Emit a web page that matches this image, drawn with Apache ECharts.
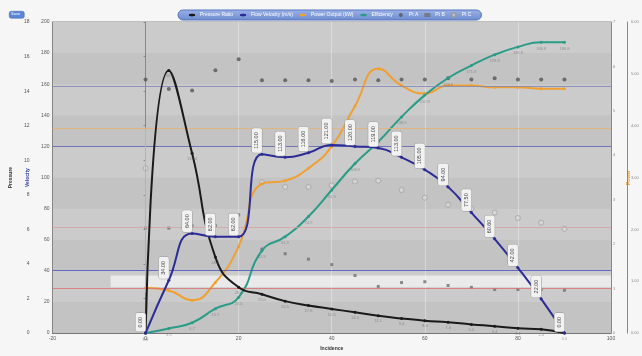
<!DOCTYPE html>
<html><head><meta charset="utf-8">
<script src="https://cdn.jsdelivr.net/npm/echarts@6/dist/echarts.min.js"></script>
<style>html,body{margin:0;padding:0;background:#f6f6f6;}#c{width:642px;height:356px;}</style>
</head><body><div id="c"></div>
<script>
// ---- data ----
const xs = [0,5,10,15,20,25,30,35,40,45,50,55,60,65,70,75,80,85,90];
const pressure = [0,15.2,10.4,4.4,2.65,2.25,1.85,1.6,1.4,1.2,1.0,0.85,0.72,0.63,0.5,0.4,0.28,0.22,0];
const velocity = [0,34,64,62,62,115,113,116,121,120,119,113,105,94,77.5,60.6,42,22,0];
const power = [1.02,0.96,0.74,1.14,1.95,3.36,3.43,3.71,4.2,5.11,5.95,5.57,5.39,5.57,5.57,5.53,5.53,5.5,5.5];
const efficiency = [0,0.09,0.2,0.47,0.69,1.59,1.86,2.25,2.76,3.27,3.69,4.17,4.59,4.92,5.16,5.37,5.52,5.61,5.61];
const ptA = [163,157,156,169,176,162.5,162.5,162.5,162,163,162.5,163,163,163.8,163,163.8,163,163,163];
const ptB = [67.5,67.5,69,69,76,54,51,47.5,44,37,30,32.5,33,30.6,29.4,28,28,28,27.5];
const ptCx = [0,25,30,35,40,45,50,55,60,65,70,75,80,85,90];
const ptC = [106,97,94,94,95,97.5,98,92,87,82.5,80,77.5,74,71,67];
const names = ['Pressure Ratio','Flow Velocity (m/s)','Power Output (kW)','Efficiency','Pt A','Pt B','Pt C'];
const refLines = [{v:159,c:'#7d86b8'},{v:132,c:'#e8b070'},{v:120,c:'#5a62b0'},{v:68,c:'#d9a0a0'},{v:40.6,c:'#4a52c0'},{v:28.75,c:'#d87070'}];
const band = [29.5,37];
const errBar = [0,26,132];

const pair = (a,b)=>a.map((v,i)=>[a[i],b[i]]);
const fs = 5;
const chart = echarts.init(document.getElementById('c'));
chart.setOption({
  backgroundColor:'#f6f6f6',
  animation:false,
  graphic:[
    {type:'rect',left:9,top:11,shape:{width:15,height:7,r:2},style:{fill:'#5b86d6',stroke:'#3a5fa8',lineWidth:0.5}},
    {type:'text',left:11,top:12,style:{text:'Save',fill:'#fff',fontSize:4}}
  ],
  legend:{
    left:178, top:10, width:320,
    backgroundColor:new echarts.graphic.LinearGradient(0,0,0,1,[{offset:0,color:'#9db3e6'},{offset:1,color:'#6b8ad0'}]),
    borderColor:'#5676bf', borderWidth:1, borderRadius:6,
    padding:[2,10], itemGap:6, itemWidth:6, itemHeight:4,
    textStyle:{color:'#fff',fontSize:fs},
    data:names
  },
  grid:{left:48,right:31,top:22,bottom:14,show:true,backgroundColor:'#c6c6c6',borderColor:'#888',borderWidth:1},
  xAxis:{type:'value',min:-20,max:100,interval:20,
    name:'Incidence',nameLocation:'middle',nameGap:8,nameTextStyle:{fontSize:fs,fontWeight:'bold',color:'#333'},
    axisLine:{lineStyle:{color:'#777'}},axisTick:{show:false},
    axisLabel:{fontSize:fs,color:'#555',margin:3},
    splitLine:{show:true,lineStyle:{color:'rgba(255,255,255,0.35)',width:1}}},
  yAxis:[
    {type:'value',position:'left',offset:20,min:0,max:18,interval:2,
      name:'Pressure',nameLocation:'middle',nameGap:13,nameTextStyle:{fontSize:fs,color:'#333',fontWeight:'bold'},
      axisLine:{show:true,lineStyle:{color:'#888'}},axisTick:{show:true,length:2},axisLabel:{fontSize:fs,color:'#555',margin:3},splitLine:{show:false}},
    {type:'value',position:'left',offset:0,min:0,max:200,interval:20,
      name:'Velocity',nameLocation:'middle',nameGap:16,nameTextStyle:{fontSize:fs,color:'#3040a0',fontWeight:'bold'},
      axisLine:{show:true,lineStyle:{color:'#888'}},axisTick:{show:false},axisLabel:{fontSize:fs,color:'#555',margin:3},
      splitLine:{show:false},
      splitArea:{show:true,areaStyle:{color:['#c3c3c3','#cbcbcb']}}},
    {type:'value',position:'right',offset:0,min:0,max:7,interval:1,
      name:'Power',nameLocation:'middle',nameGap:10,nameTextStyle:{fontSize:fs,color:'#e89a30',fontWeight:'bold'},
      axisLine:{show:true,lineStyle:{color:'#888'}},axisTick:{show:false},axisLabel:{fontSize:4,color:'#888',margin:2},splitLine:{show:false}},
    {type:'value',position:'right',offset:16,min:0,max:6,interval:1,
      axisLine:{show:true,lineStyle:{color:'#888'}},axisTick:{show:false},
      axisLabel:{fontSize:4,color:'#888',margin:4,formatter:v=>v.toFixed(2)},splitLine:{show:false}}
  ],
  series:[
    {name:names[0],type:'line',yAxisIndex:0,smooth:0.5,data:pair(xs,pressure),
      symbol:'circle',symbolSize:3,lineStyle:{color:'#1a1a1a',width:2},itemStyle:{color:'#1a1a1a'},
      label:{show:true,position:'bottom',distance:2,fontSize:4,color:'rgba(90,90,90,0.55)',formatter:p=>(p.value[1]*11.1).toFixed(1)},z:5},
    {name:names[1],type:'line',yAxisIndex:1,smooth:0.5,data:pair(xs,velocity),
      symbol:'circle',symbolSize:3,lineStyle:{color:'#2c2c96',width:2},itemStyle:{color:'#2c2c96'},
      label:{show:true,position:'top',distance:2,rotate:90,align:'left',verticalAlign:'bottom',offset:[-2,0],
        fontSize:5.5,color:'#444',backgroundColor:'#f2f2f2',borderColor:'#999',borderWidth:0.5,borderRadius:2,padding:[2,4],
        formatter:p=>p.value[1].toFixed(2)},
      markLine:{silent:true,symbol:'none',label:{show:false},data:refLines.map(r=>({yAxis:r.v,lineStyle:{color:r.c,width:1,type:'solid',opacity:0.8}}))
        .concat([[{coord:[errBar[0],errBar[1]],lineStyle:{color:'#e0a0a8',width:1,type:'solid'}},{coord:[errBar[0],errBar[2]]}]])},
      markArea:{silent:true,itemStyle:{color:'rgba(255,255,255,0.6)'},data:[[{xAxis:-7.5,yAxis:band[0]},{xAxis:100,yAxis:band[1]}]]},
      z:6},
    {name:names[2],type:'line',yAxisIndex:2,smooth:0.5,data:pair(xs,power),
      symbol:'circle',symbolSize:3,lineStyle:{color:'#f0a030',width:2},itemStyle:{color:'#f0a030'},z:4},
    {name:names[3],type:'line',yAxisIndex:3,smooth:0.5,data:pair(xs,efficiency),
      symbol:'circle',symbolSize:3,lineStyle:{color:'#2a9c88',width:2},itemStyle:{color:'#2a9c88'},
      label:{show:true,position:'bottom',distance:3,fontSize:4,color:'rgba(90,90,90,0.5)',formatter:p=>(p.value[1]*33.3).toFixed(1)},z:4},
    {name:names[4],type:'scatter',yAxisIndex:1,data:pair(xs,ptA),symbol:'circle',symbolSize:4,itemStyle:{color:'#555'},z:3},
    {name:names[5],type:'scatter',yAxisIndex:1,data:pair(xs,ptB),symbol:'rect',symbolSize:3,itemStyle:{color:'#707070'},z:3},
    {name:names[6],type:'scatter',yAxisIndex:1,data:pair(ptCx,ptC),symbol:'circle',symbolSize:5,itemStyle:{color:'#d8d8d8',borderColor:'#999',borderWidth:0.8},z:3}
  ]
});
</script></body></html>
